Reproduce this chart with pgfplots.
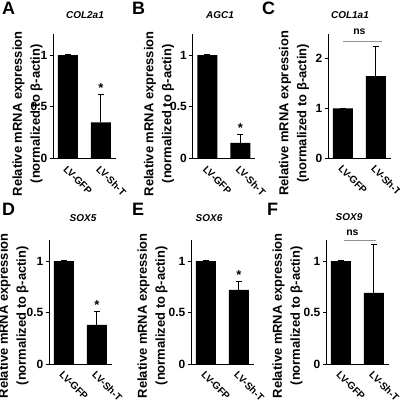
\documentclass[border=0pt]{standalone}
\usepackage{pgfplots}
\pgfplotsset{compat=1.18}
\usepackage{fontspec}
\setmainfont{Liberation Sans}
\pgfplotsset{
  panel/.style={
    scale only axis, width=62.7bp,
    axis x line*=bottom, axis y line*=left,
    ybar, bar width=0.6, xmin=-0.45, xmax=1.45, ymin=0,
    xtick={0,1}, xticklabels={LV-GFP,LV-Sh-T},
    x tick label style={rotate=-45, anchor=north west, font=\fontsize{10}{10}\selectfont\bfseries, inner sep=2bp},
    major x tick style={draw=none},
    y tick label style={font=\fontsize{12}{12}\selectfont\bfseries, inner sep=2bp},
    tick align=outside, major tick length=3.5bp,
    major tick style={line width=0.8bp, black},
    /pgf/number format/assume math mode=true,
    clip=false,
    axis line style={line width=0.8bp, black},
    ylabel={Relative mRNA expression\\(normalized to β-actin)},
    ylabel style={anchor=center, align=center, font=\fontsize{13}{18}\selectfont\bfseries},
    cycle list={{fill=black, draw=none}},
    error bars/y dir=plus, error bars/y explicit,
    error bars/error mark options={rotate=90, mark size=3bp, line width=0.8bp, black},
    error bars/error bar style={line width=0.8bp, black},
  },
  toprow/.style={height=124bp},
  botrow/.style={height=123.5bp},
}
\tikzset{
  star/.style={anchor=south, inner sep=1bp, font=\fontsize{13}{13}\selectfont\bfseries},
  plet/.style={anchor=base west, inner sep=0pt, font=\fontsize{18}{18}\selectfont\bfseries},
  ptitle/.style={anchor=base, inner sep=0pt, font=\fontsize{10}{10}\selectfont\bfseries\itshape},
  nstext/.style={anchor=center, inner sep=0pt, font=\fontsize{10.5}{10.5}\selectfont\bfseries},
}
\begin{document}
\begin{tikzpicture}[x=1bp,y=1bp]
\useasboundingbox (0,0) rectangle (400,404);
% ---- A
\begin{axis}[panel, toprow, at={(53bp,245.5bp)}, anchor=south west,
  ymax=1.2, ytick={0,0.5,1}, yticklabels={0,0.5,1},
  ylabel style={at={([xshift=-25.5bp]axis description cs:0,0.36)}}]
\addplot[fill=black, draw=none] coordinates {(0,1) +- (0,0.004) (1,0.35) +- (0,0.27)};
\node[star] at (axis cs:1,0.63) {*};
\end{axis}
% ---- B
\begin{axis}[panel, toprow, at={(192.5bp,245.5bp)}, anchor=south west,
  ymax=1.2, ytick={0,0.5,1}, yticklabels={0,0.5,1},
  ylabel style={at={([xshift=-33.5bp]axis description cs:0,0.36)}}]
\addplot[fill=black, draw=none] coordinates {(0,1) +- (0,0.004) (1,0.15) +- (0,0.08)};
\node[star] at (axis cs:1,0.24) {*};
\end{axis}
% ---- C
\begin{axis}[panel, toprow, at={(328bp,246bp)}, anchor=south west,
  ymax=2.5, ytick={0,1,2}, yticklabels={0,1,2},
  ylabel style={at={([xshift=-34bp]axis description cs:0,0.36)}}]
\addplot[fill=black, draw=none] coordinates {(0,1) +- (0,0.008) (1,1.65) +- (0,0.6)};
\draw[gray!85, line width=1bp] (axis cs:0,2.34) -- (axis cs:1.2,2.34);
\node[nstext] at (axis cs:0.5,2.55) {ns};
\end{axis}
% ---- D
\begin{axis}[panel, botrow, at={(49bp,40bp)}, anchor=south west,
  ymax=1.2, ytick={0,0.5,1}, yticklabels={0,0.5,1},
  ylabel style={at={([xshift=-35.5bp]axis description cs:0,0.39)}}]
\addplot[fill=black, draw=none] coordinates {(0,1) +- (0,0.004) (1,0.38) +- (0,0.13)};
\node[star] at (axis cs:1,0.52) {*};
\end{axis}
% ---- E
\begin{axis}[panel, botrow, at={(191bp,40bp)}, anchor=south west,
  ymax=1.2, ytick={0,0.5,1}, yticklabels={0,0.5,1},
  ylabel style={at={([xshift=-38.5bp]axis description cs:0,0.39)}}]
\addplot[fill=black, draw=none] coordinates {(0,1) +- (0,0.004) (1,0.72) +- (0,0.08)};
\node[star] at (axis cs:1,0.81) {*};
\end{axis}
% ---- F
\begin{axis}[panel, botrow, at={(326bp,40bp)}, anchor=south west,
  ymax=1.2, ytick={0,0.5,1}, yticklabels={0,0.5,1},
  ylabel style={at={([xshift=-38.5bp]axis description cs:0,0.39)}}]
\addplot[fill=black, draw=none] coordinates {(0,1) +- (0,0.004) (1,0.69) +- (0,0.47)};
\draw[gray!85, line width=1bp] (axis cs:0.1,1.2) -- (axis cs:1.05,1.2);
\node[nstext] at (axis cs:0.35,1.28) {ns};
\end{axis}
% ---- panel letters and titles
\node[plet] at (2,389) {A};
\node[plet] at (132,389) {B};
\node[plet] at (262,389) {C};
\node[plet] at (2,189) {D};
\node[plet] at (132,189) {E};
\node[plet] at (267,189) {F};
\node[ptitle] at (85,385.7) {COL2a1};
\node[ptitle] at (220,385.7) {AGC1};
\node[ptitle] at (350,385.7) {COL1a1};
\node[ptitle] at (83,182.5) {SOX5};
\node[ptitle] at (209,182.5) {SOX6};
\node[ptitle] at (349,184) {SOX9};
\end{tikzpicture}
\end{document}
